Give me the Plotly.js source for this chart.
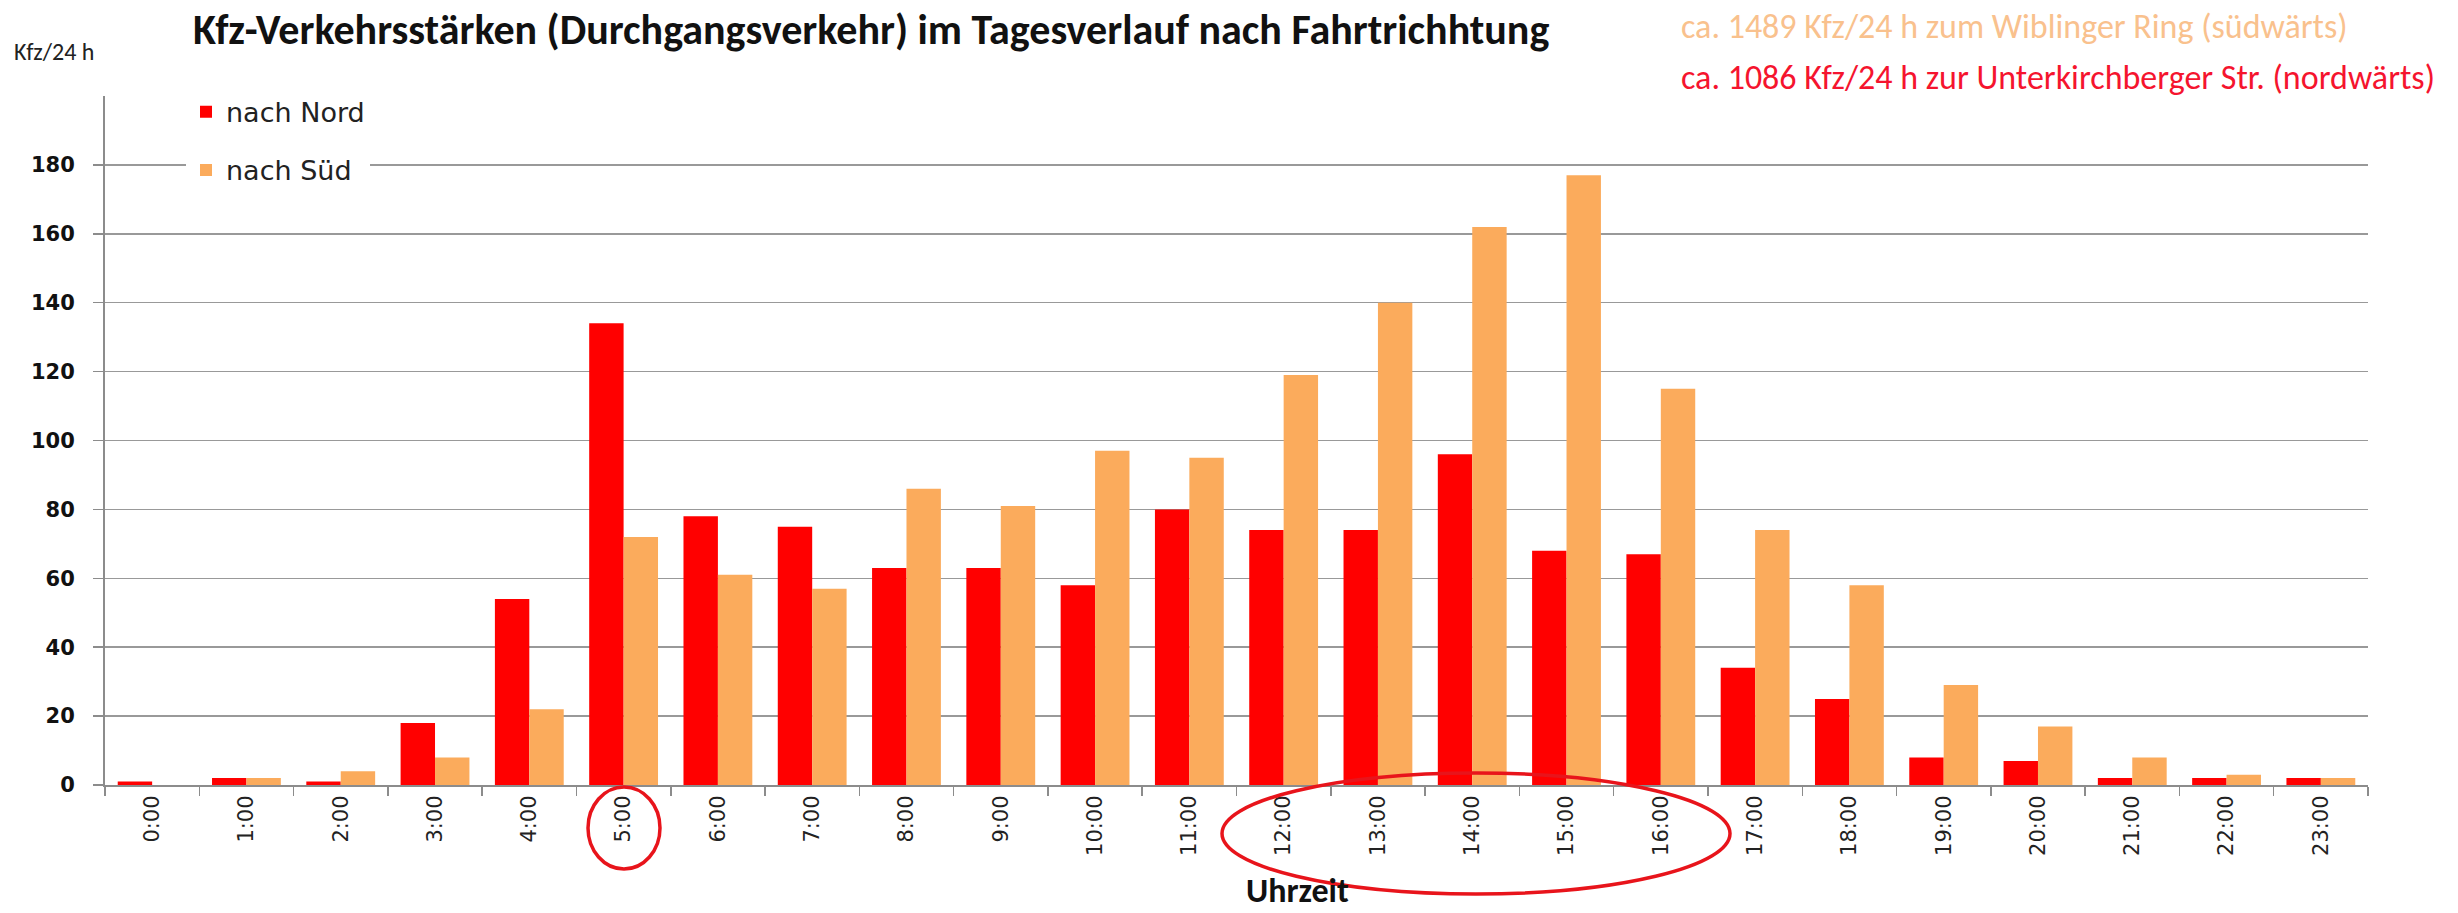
<!DOCTYPE html>
<html><head><meta charset="utf-8">
<script src="https://cdn.plot.ly/plotly-3.0.1.min.js"></script>
<style>html,body{margin:0;padding:0;background:#fff}#chart{width:2458px;height:913px}</style>
</head><body><div id="chart"></div>
<script>
const hours = ['0:00','1:00','2:00','3:00','4:00','5:00','6:00','7:00','8:00','9:00','10:00','11:00',
  '12:00','13:00','14:00','15:00','16:00','17:00','18:00','19:00','20:00','21:00','22:00','23:00'];
const nachNord = [1,2,1,18,54,134,78,75,63,63,58,80,74,74,96,68,67,34,25,8,7,2,2,2];
const nachSued = [0,2,4,8,22,72,61,57,86,81,97,95,119,140,162,177,115,74,58,29,17,8,3,2];
const yTicks = [0,20,40,60,80,100,120,140,160,180];
const seriesNames = ['nach Nord','nach Süd'];
const titleText = 'Kfz-Verkehrsstärken (Durchgangsverkehr) im Tagesverlauf nach Fahrtrichhtung';
const yUnitText = 'Kfz/24 h';
const xTitleText = 'Uhrzeit';
const totalSued = 'ca. 1489 Kfz/24 h zum Wiblinger Ring (südwärts)';
const totalNord = 'ca. 1086 Kfz/24 h zur Unterkirchberger Str. (nordwärts)';

const RED = '#ff0000', ORANGE = '#fbab5c';
const condensed = 'Carlito, Lato, sans-serif';

const traces = [
  {type:'bar', name:seriesNames[0], x:hours, y:nachNord, marker:{color:RED}, legendgroup:'n'},
  {type:'bar', name:seriesNames[1], x:hours, y:nachSued, marker:{color:ORANGE}, legendgroup:'s'}
];

const layout = {
  width:2458, height:913,
  margin:{l:105, r:90, t:96, b:128},
  paper_bgcolor:'#fff', plot_bgcolor:'#fff',
  barmode:'group', bargap:0.27, bargroupgap:0,
  title:{text:'<b>'+titleText+'</b>', x:193/2458, xref:'container', xanchor:'left',
         y:1-29/913, yref:'container', yanchor:'middle',
         font:{family:condensed, size:42, color:'#111'}},
  xaxis:{type:'category', showline:true, linecolor:'#8c8c8c', linewidth:2,
         ticks:'outside', tickson:'boundaries', ticklen:9, tickcolor:'#8c8c8c', tickwidth:1.5,
         tickangle:-90, tickfont:{family:'DejaVu Sans, Verdana, sans-serif', size:21, color:'#222'},
         showgrid:false, zeroline:false, fixedrange:true},
  yaxis:{range:[0,200], tickvals:yTicks, showline:true, linecolor:'#8c8c8c', linewidth:2,
         ticks:'outside', ticklen:10, tickcolor:'#8c8c8c', tickwidth:1.5, ticklabelstandoff:14,
         tickfont:{family:'DejaVu Sans, Verdana, sans-serif', size:21, color:'#111', weight:'bold'},
         showgrid:true, gridcolor:'#999', gridwidth:1.5, zeroline:false, fixedrange:true},
  legend:{x:(186-105)/2263, xanchor:'left', y:1.012, yanchor:'top', bgcolor:'#fff', borderwidth:0,
          tracegroupgap:20, font:{family:'DejaVu Sans, Verdana, sans-serif', size:27, color:'#222'}},
  showlegend:true,
  annotations:[
    {text:yUnitText, xref:'paper', yref:'paper', x:-93/2263, y:(785-52)/689, xanchor:'left', yanchor:'middle',
     showarrow:false, font:{family:condensed, size:24, color:'#222'}},
    {text:'<b>'+xTitleText+'</b>', xref:'paper', yref:'paper', x:(1297-105)/2263, y:(785-891)/689,
     xanchor:'center', yanchor:'middle', showarrow:false, font:{family:condensed, size:34, color:'#111'}},
    {text:totalSued, xref:'paper', yref:'paper', x:(1679-105)/2263, y:(785-27)/689, xanchor:'left', yanchor:'middle',
     showarrow:false, font:{family:condensed, size:34, color:'#f9c18d'}},
    {text:totalNord, xref:'paper', yref:'paper', x:(1679-105)/2263, y:(785-78)/689, xanchor:'left', yanchor:'middle',
     showarrow:false, font:{family:condensed, size:34, color:'#f5142e'}}
  ],
  shapes:[
    {type:'circle', xref:'paper', yref:'paper', x0:(588-105)/2263, x1:(660-105)/2263,
     y0:(785-869)/689, y1:(785-787)/689, line:{color:'#e8141b', width:3.5}},
    {type:'circle', xref:'paper', yref:'paper', x0:(1222-105)/2263, x1:(1730-105)/2263,
     y0:(785-894)/689, y1:(785-773)/689, line:{color:'#e8141b', width:3.5}}
  ]
};

Plotly.newPlot('chart', traces, layout, {displayModeBar:false, staticPlot:true});
</script></body></html>
